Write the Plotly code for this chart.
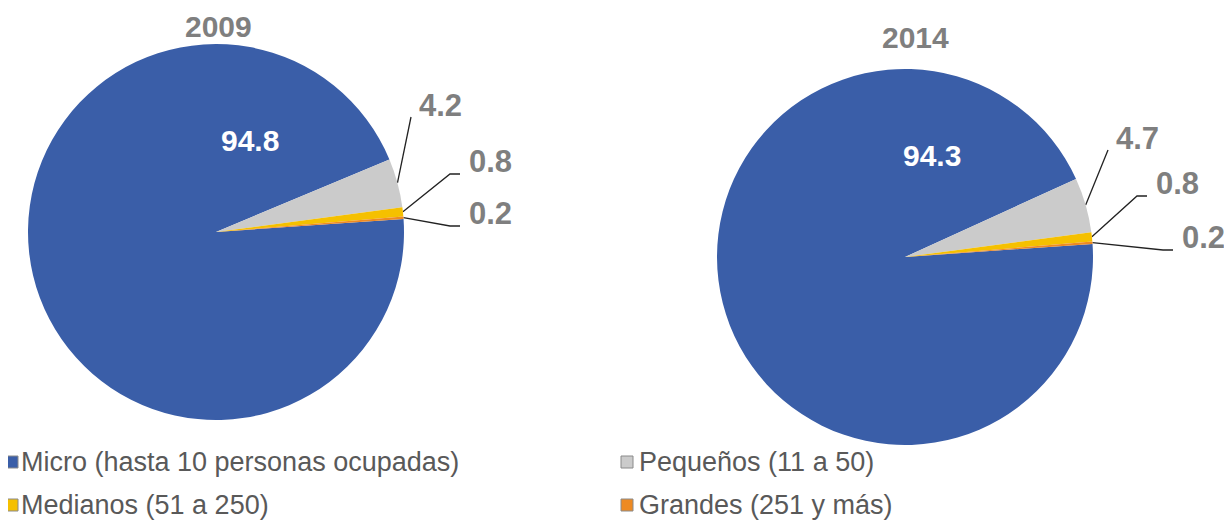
import math
import plotly.graph_objects as go

# ---------------- data ----------------
categories = ["Micro (hasta 10 personas ocupadas)", "Pequeños (11 a 50)",
              "Medianos (51 a 250)", "Grandes (251 y más)"]
years = ["2009", "2014"]
values_2009 = [94.8, 4.2, 0.8, 0.2]
values_2014 = [94.3, 4.7, 0.8, 0.2]
colors = ["#3a5ea8", "#cbcbcb", "#f5c000", "#ee8a22"]

# ---------------- layout / style ----------------
W, H = 1232, 530
OFF = 8  # page body margin: axis ranges map page pixels
FONT = "Liberation Sans, Arial, sans-serif"
GRAY = "#7f7f7f"
ROT = 86  # start angle (plotly degrees, clockwise from 12 o'clock)

pies = [
    dict(year=years[0], values=values_2009, cx=216, cy=232, r=188,
         title=(218, 26), big=(250, 140),
         small=[(440, 105), (490, 161), (490, 213)]),
    dict(year=years[1], values=values_2014, cx=905, cy=257, r=188,
         title=(915, 37), big=(932, 155),
         small=[(1137, 138), (1177, 183), (1203, 237)]),
]

leg_marker_x = [12, 627]
leg_text_x = [19, 637]
leg_row_y = [462, 505]

fig = go.Figure()
annotations = []

for p in pies:
    cx, cy, r = p["cx"], p["cy"], p["r"]
    fig.add_trace(go.Pie(
        labels=categories, values=p["values"], sort=False,
        direction="clockwise", rotation=ROT,
        marker=dict(colors=colors, line=dict(width=0)),
        textinfo="none", hoverinfo="label+value", showlegend=False,
        domain=dict(x=[(cx - OFF - r) / W, (cx - OFF + r) / W],
                    y=[(H - (cy - OFF) - r) / H, (H - (cy - OFF) + r) / H]),
    ))
    annotations.append(dict(x=p["title"][0], y=p["title"][1], xref="x", yref="y",
                            text="<b>%s</b>" % p["year"], showarrow=False,
                            font=dict(family=FONT, size=30, color=GRAY)))
    annotations.append(dict(x=p["big"][0], y=p["big"][1], xref="x", yref="y",
                            text="<b>%s</b>" % p["values"][0], showarrow=False,
                            font=dict(family=FONT, size=30, color="white")))
    total = sum(p["values"])
    start = ROT + 360 * p["values"][0] / total
    for i, v in enumerate(p["values"][1:]):
        span = 360 * v / total
        mid = start + span / 2
        start += span
        theta = math.radians(90 - mid)
        rx, ry = cx + r * math.cos(theta), cy - r * math.sin(theta)
        lx, ly = p["small"][i]
        if i == 0:
            xs, ys = [rx, lx - 29], [ry, ly + 12]
        else:
            xs, ys = [rx, lx - 40, lx - 30], [ry, ly + 13, ly + 13]
        fig.add_trace(go.Scatter(x=xs, y=ys, mode="lines", showlegend=False,
                                 hoverinfo="skip",
                                 line=dict(color="#222222", width=1.3)))
        annotations.append(dict(x=lx, y=ly, xref="x", yref="y",
                                text="<b>%s</b>" % v, showarrow=False,
                                font=dict(family=FONT, size=31, color=GRAY)))

# legend built from markers + text
mx, my = [], []
for i, cat in enumerate(categories):
    col, row = i % 2, i // 2
    mx.append(leg_marker_x[col])
    my.append(leg_row_y[row])
    annotations.append(dict(x=leg_text_x[col], y=leg_row_y[row], xref="x", yref="y",
                            text=cat, showarrow=False, xanchor="left", yanchor="middle",
                            font=dict(family=FONT, size=27, color="#595959")))
fig.add_trace(go.Scatter(x=mx, y=my, mode="markers", showlegend=False, hoverinfo="skip",
                         marker=dict(symbol="square", size=12, color=colors,
                                     line=dict(width=1, color="#8a8a8a"))))

fig.update_layout(
    width=W, height=H, margin=dict(l=0, r=0, t=0, b=0, autoexpand=False),
    paper_bgcolor="white", plot_bgcolor="white",
    xaxis=dict(range=[OFF, W + OFF], visible=False, domain=[0, 1], fixedrange=True),
    yaxis=dict(range=[H + OFF, OFF], visible=False, domain=[0, 1], fixedrange=True),
    annotations=annotations,
    showlegend=False,
)

fig.write_html("out.html")
